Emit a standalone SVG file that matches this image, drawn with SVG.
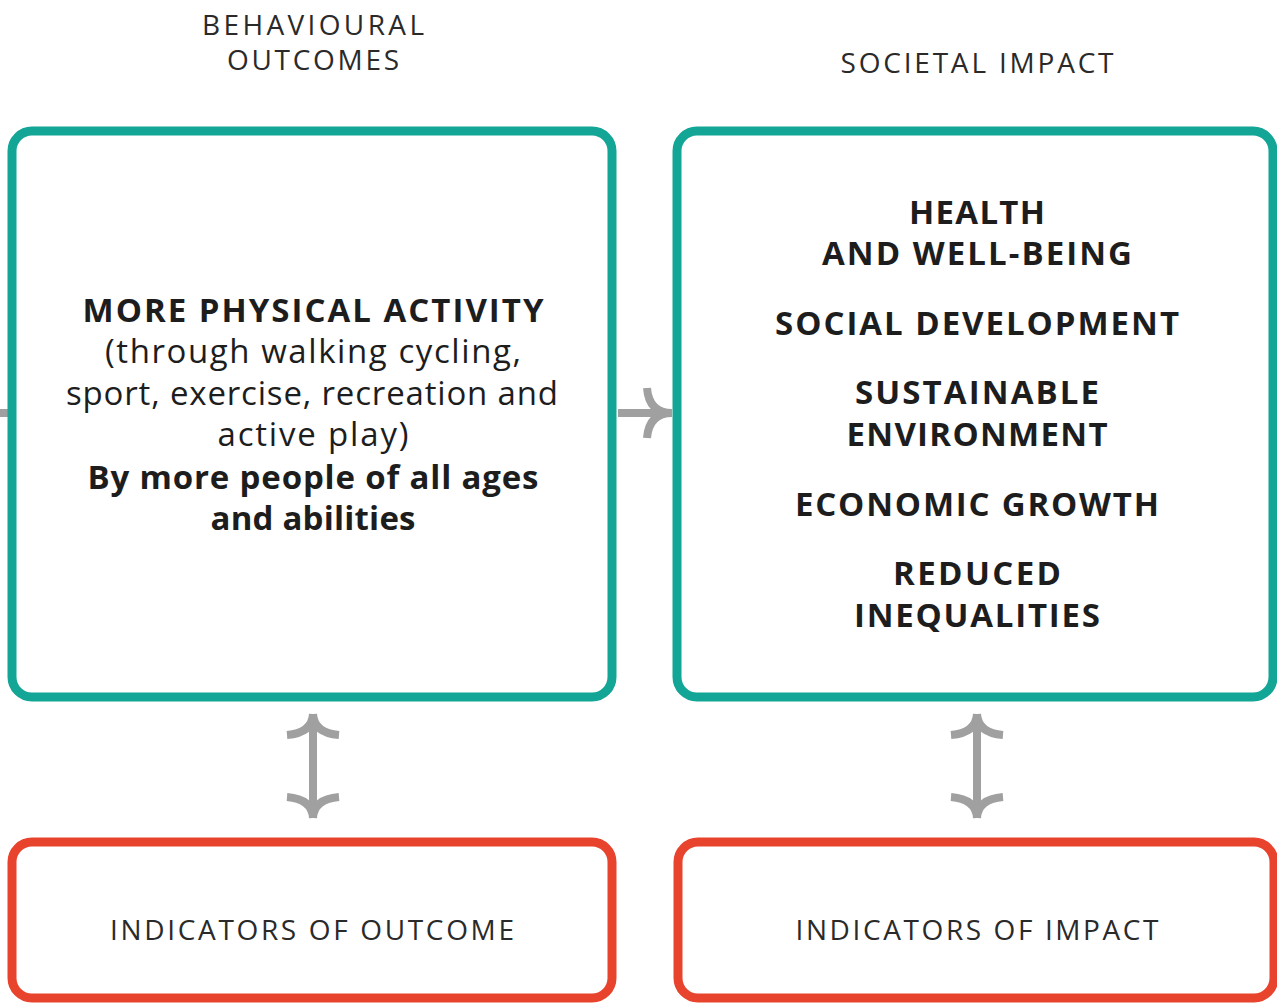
<svg xmlns="http://www.w3.org/2000/svg" width="1277" height="1003" viewBox="0 0 1277 1003">
<style>
.box{fill:#fff;stroke-width:9}
.teal{stroke:#13a595}
.red{stroke:#e8432d}
.hdr{font-family:"Open Sans","Liberation Sans",sans-serif;font-size:28px;fill:#2a2a2a;text-anchor:middle}
.b{font-family:"Open Sans","Liberation Sans",sans-serif;font-size:33px;font-weight:bold;fill:#1d1d1d;text-anchor:middle}
.r{font-family:"Open Sans","Liberation Sans",sans-serif;font-size:33px;fill:#1d1d1d;text-anchor:middle}
.arr{fill:none;stroke:#a0a0a0;stroke-width:8}
</style>
<rect width="1277" height="1003" fill="#fff"/>
<g id="header-outcomes"><text class="hdr" x="313" y="35" textLength="222" lengthAdjust="spacing">BEHAVIOURAL</text><text class="hdr" x="313" y="70" textLength="172" lengthAdjust="spacing">OUTCOMES</text></g>
<g id="header-impact"><text class="hdr" x="977" y="73" textLength="273" lengthAdjust="spacing">SOCIETAL IMPACT</text></g>
<g id="connectors">
<path class="arr" d="M0 413 H8"/>
<path class="arr" d="M618 413 H670 M647 388 Q649 413 672 413 M647 438 Q649 413 672 413"/>
<path class="arr" d="M313 714 V818 M287 735 Q312 733 313 714 M339 735 Q314 733 313 714 M287 797 Q312 799 313 818 M339 797 Q314 799 313 818"/>
<path class="arr" d="M977 714 V818 M951 735 Q976 733 977 714 M1003 735 Q978 733 977 714 M951 797 Q976 799 977 818 M1003 797 Q978 799 977 818"/>
</g>
<g id="outcome-box">
<rect class="box teal" x="12" y="131" width="600" height="566" rx="20"/>
<text class="b" x="313" y="322" textLength="461" lengthAdjust="spacing">MORE PHYSICAL ACTIVITY</text>
<text class="r" x="313" y="363" textLength="416" lengthAdjust="spacing">(through walking cycling,</text>
<text class="r" x="312" y="405" textLength="492" lengthAdjust="spacing">sport, exercise, recreation and</text>
<text class="r" x="313" y="446" textLength="191" lengthAdjust="spacing">active play)</text>
<text class="b" x="313" y="489" textLength="451" lengthAdjust="spacing">By more people of all ages</text>
<text class="b" x="313" y="530" textLength="205" lengthAdjust="spacing">and abilities</text>
</g>
<g id="impact-box">
<rect class="box teal" x="677" y="131" width="596" height="566" rx="20"/>
<text class="b" x="977" y="224" textLength="136" lengthAdjust="spacing">HEALTH</text>
<text class="b" x="977" y="265" textLength="310" lengthAdjust="spacing">AND WELL-BEING</text>
<text class="b" x="977" y="335" textLength="404" lengthAdjust="spacing">SOCIAL DEVELOPMENT</text>
<text class="b" x="977" y="404" textLength="244" lengthAdjust="spacing">SUSTAINABLE</text>
<text class="b" x="977" y="446" textLength="261" lengthAdjust="spacing">ENVIRONMENT</text>
<text class="b" x="977" y="516" textLength="364" lengthAdjust="spacing">ECONOMIC GROWTH</text>
<text class="b" x="977" y="585" textLength="168" lengthAdjust="spacing">REDUCED</text>
<text class="b" x="977" y="627" textLength="246" lengthAdjust="spacing">INEQUALITIES</text>
</g>
<g id="outcome-indicators">
<rect class="box red" x="12" y="842" width="600" height="156" rx="20"/>
<text class="hdr" x="312" y="940" textLength="404" lengthAdjust="spacing">INDICATORS OF OUTCOME</text>
</g>
<g id="impact-indicators">
<rect class="box red" x="678" y="842" width="596" height="156" rx="20"/>
<text class="hdr" x="977" y="940" textLength="363" lengthAdjust="spacing">INDICATORS OF IMPACT</text>
</g>
</svg>
